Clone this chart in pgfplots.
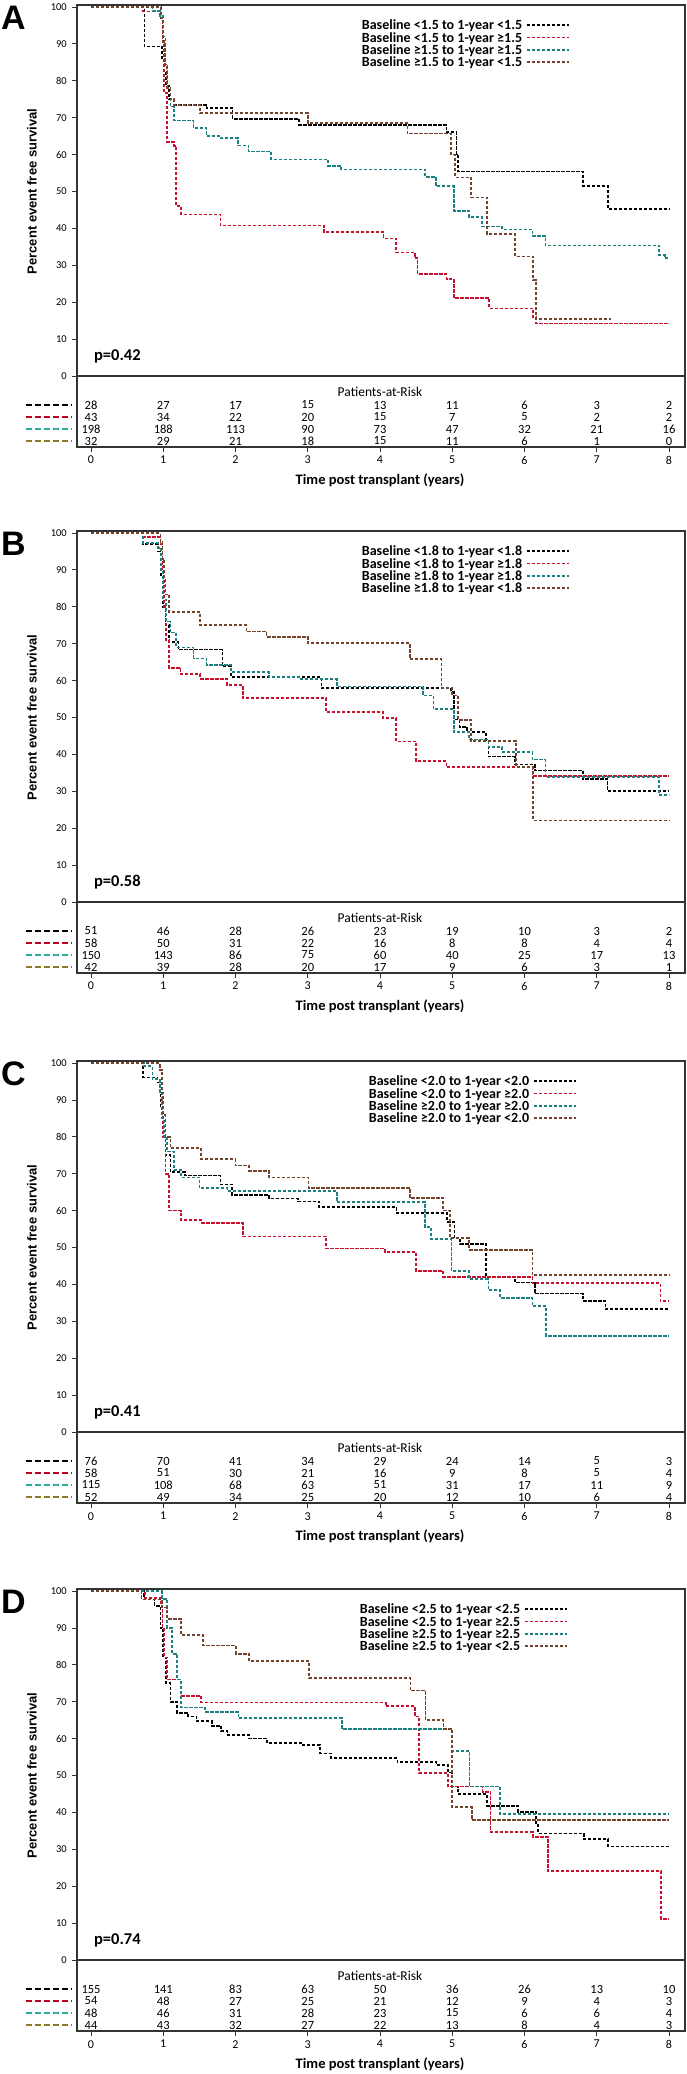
\documentclass[border=0pt]{standalone}
\usepackage{pgfplots}
\pgfplotsset{compat=1.18}
\usepackage{fontspec}
\setmainfont{Carlito}
\newfontfamily\arialfont{Liberation Sans}

\definecolor{kmred}{HTML}{C8102E}
\definecolor{kmteal}{HTML}{1A8080}
\definecolor{kmbrown}{HTML}{74442A}
\definecolor{rkred}{HTML}{C00020}
\definecolor{rkteal}{HTML}{2FA898}
\definecolor{rkolive}{HTML}{8C7A2A}
\definecolor{boxgray}{HTML}{333333}

\newcommand\fs[1]{\fontsize{#1}{#1}\selectfont}
\newcommand\LS{\rule[-1.85pt]{0pt}{12.7pt}}

\tikzset{risklegend/.style={line width=1.6pt, dash pattern=on 6pt off 3pt}}

\pgfplotsset{
  km/.style={
    scale only axis, width=608pt, height=442pt,
    anchor=north west,
    xmin=-0.194, xmax=8.221, ymin=-19.24, ymax=100.54,
    xtick={0,...,8}, ytick={0,10,...,100},
    xtick pos=left, ytick pos=left, tick align=outside,
    major tick length=5pt,
    tick style={boxgray, line width=0.8pt},
    axis line style={boxgray, line width=1.2pt},
    /pgf/number format/assume math mode=true,
    xticklabel style={font=\fs{12}, inner sep=4pt},
    yticklabel style={font=\fs{10.5}, inner sep=5pt},
    clip=false,
    every axis y label/.style={at={(axis cs:-0.817,50)}, rotate=90, anchor=center, font=\arialfont\bfseries\fs{13}},
    every axis x label/.style={at={(axis cs:4,-19.24)}, anchor=center, yshift=-33pt, font=\bfseries\fs{14.5}},
    ylabel={Percent event free survival},
    xlabel={Time post transplant (years)},
    legend plot pos=right,
    legend style={draw=none, fill=none, inner sep=0pt, column sep=4pt, row sep=0pt,
      font=\bfseries\fs{14}, cells={anchor=east}, nodes={inner sep=0pt}},
  },
  curve/.style={const plot, line width=1.7pt, dash pattern=on 3.3pt off 1.7pt,
    legend image code/.code={\draw[##1] (0pt,0pt) -- (42pt,0pt);}},
  risk/.style={draw=none, mark=none, forget plot, nodes near coords, point meta=explicit symbolic,
    every node near coord/.append style={anchor=center, font=\fs{12.5}, inner sep=0pt}},
}

\begin{document}
\begin{tikzpicture}
\useasboundingbox (0,0) rectangle (687pt,-2074pt);

% ---------------- A ----------------
\node[anchor=north west, inner sep=0pt, font=\arialfont\bfseries\fs{34}] at (1pt,-6pt) {A};
\begin{axis}[km, at={(77pt,-5pt)}, legend style={at={(0.8109,0.9691)}, anchor=north east}]
\addplot[curve, black] coordinates {(0,100) (0.74,89.3) (0.98,85.7) (1.01,82.1) (1.04,78.6) (1.08,75.0) (1.15,73.5) (1.6,72.6) (1.96,69.7) (2.88,68.1) (4.92,66.1) (5.06,60.0) (5.08,55.4) (6.81,51.5) (7.16,45.2) (8.0,45.2)};
\addlegendentry{\LS Baseline <1.5 to 1-year <1.5}
\addplot[curve, kmred] coordinates {(0,100) (0.72,98.8) (0.97,97.7) (0.99,90.7) (1.01,76.7) (1.05,63.5) (1.15,62.4) (1.18,46.0) (1.25,43.8) (1.79,40.8) (3.22,39.0) (4.05,37.3) (4.22,33.5) (4.48,31.9) (4.52,27.7) (4.92,26.3) (5.02,21.2) (5.51,18.3) (6.12,16.0) (6.16,14.2) (8.0,14.2)};
\addlegendentry{\LS Baseline <1.5 to 1-year ≥1.5}
\addplot[curve, kmteal] coordinates {(0,100) (0.85,99.0) (0.95,97.5) (1.0,92.0) (1.03,84.0) (1.06,78.0) (1.1,73.0) (1.15,69.2) (1.42,67.2) (1.6,65.0) (1.79,64.5) (2.03,62.5) (2.18,60.8) (2.49,58.7) (3.28,57.0) (3.46,56.0) (4.62,54.0) (4.77,51.4) (5.02,44.8) (5.23,43.0) (5.41,40.5) (5.69,39.7) (6.11,38.0) (6.29,35.4) (7.86,32.8) (7.94,32.0) (8.0,32.0)};
\addlegendentry{\LS Baseline ≥1.5 to 1-year ≥1.5}
\addplot[curve, kmbrown] coordinates {(0,100) (0.97,96.9) (1.0,90.6) (1.02,84.4) (1.05,78.1) (1.1,75.0) (1.15,73.4) (1.51,71.3) (3.0,68.6) (4.38,65.7) (4.98,60.0) (5.04,53.8) (5.26,48.4) (5.48,38.4) (5.87,32.4) (6.12,26.0) (6.16,15.4) (7.2,15.4)};
\addlegendentry{\LS Baseline ≥1.5 to 1-year <1.5}
\addplot[risk] coordinates {(0,-7.86)[28] (1,-7.86)[27] (2,-7.86)[17] (3,-7.86)[15] (4,-7.86)[13] (5,-7.86)[11] (6,-7.86)[6] (7,-7.86)[3] (8,-7.86)[2]};
\addplot[risk] coordinates {(0,-11.11)[43] (1,-11.11)[34] (2,-11.11)[22] (3,-11.11)[20] (4,-11.11)[15] (5,-11.11)[7] (6,-11.11)[5] (7,-11.11)[2] (8,-11.11)[2]};
\addplot[risk] coordinates {(0,-14.36)[198] (1,-14.36)[188] (2,-14.36)[113] (3,-14.36)[90] (4,-14.36)[73] (5,-14.36)[47] (6,-14.36)[32] (7,-14.36)[21] (8,-14.36)[16]};
\addplot[risk] coordinates {(0,-17.61)[32] (1,-17.61)[29] (2,-17.61)[21] (3,-17.61)[18] (4,-17.61)[15] (5,-17.61)[11] (6,-17.61)[6] (7,-17.61)[1] (8,-17.61)[0]};
\draw[boxgray, line width=1.2pt] (axis cs:-0.194,0) -- (axis cs:8.221,0);
\node[font=\fs{13.5}, inner sep=0pt] at (axis cs:4,-4.34) {Patients-at-Risk};
\node[anchor=base west, font=\bfseries\fs{16.5}, inner sep=0pt] at (axis cs:0.04,4.25) {p=0.42};
\draw[risklegend, black] (axis cs:-0.90,-7.86) -- (axis cs:-0.263,-7.86);
\draw[risklegend, rkred] (axis cs:-0.90,-11.11) -- (axis cs:-0.263,-11.11);
\draw[risklegend, rkteal] (axis cs:-0.90,-14.36) -- (axis cs:-0.263,-14.36);
\draw[risklegend, rkolive] (axis cs:-0.90,-17.61) -- (axis cs:-0.263,-17.61);
\end{axis}

% ---------------- B ----------------
\node[anchor=north west, inner sep=0pt, font=\arialfont\bfseries\fs{34}] at (1pt,-532pt) {B};
\begin{axis}[km, at={(77pt,-531pt)}, legend style={at={(0.8109,0.9691)}, anchor=north east}]
\addplot[curve, black] coordinates {(0,100) (0.72,97.0) (0.93,95.0) (0.97,88.0) (1.0,80.0) (1.03,75.0) (1.08,70.5) (1.21,68.4) (1.82,64.0) (1.94,61.0) (3.19,58.0) (4.98,56.9) (5.02,49.5) (5.1,47.5) (5.2,46.0) (5.47,43.8) (5.5,39.4) (5.87,37.3) (6.14,35.6) (6.81,33.4) (7.15,30.0) (8.0,30.0)};
\addlegendentry{\LS Baseline <1.8 to 1-year <1.8}
\addplot[curve, kmred] coordinates {(0,100) (0.72,99.0) (0.96,97.0) (0.99,90.0) (1.01,80.0) (1.04,71.0) (1.08,63.5) (1.24,61.7) (1.51,60.5) (1.88,58.8) (2.1,55.2) (3.25,51.4) (4.04,49.8) (4.22,43.5) (4.5,38.2) (4.92,36.5) (6.11,34.2) (8.0,34.2)};
\addlegendentry{\LS Baseline <1.8 to 1-year ≥1.8}
\addplot[curve, kmteal] coordinates {(0,100) (0.72,97.3) (0.93,96.0) (0.97,90.0) (1.0,82.0) (1.04,76.0) (1.1,73.0) (1.18,69.0) (1.42,66.0) (1.6,64.3) (1.94,62.3) (2.46,61.0) (2.88,60.4) (3.4,58.4) (4.59,56.0) (4.74,52.3) (5.02,46.0) (5.23,44.0) (5.5,42.0) (5.69,40.7) (6.11,38.6) (6.29,33.8) (7.86,29.0) (8.0,29.0)};
\addlegendentry{\LS Baseline ≥1.8 to 1-year ≥1.8}
\addplot[curve, kmbrown] coordinates {(0,100) (0.96,97.6) (0.99,92.9) (1.01,88.0) (1.03,83.3) (1.08,78.5) (1.51,75.0) (2.15,73.3) (2.43,71.9) (3.0,70.2) (4.41,65.8) (4.85,58.0) (5.0,56.0) (5.08,49.4) (5.26,43.6) (5.88,36.6) (6.12,22.1) (8.0,22.1)};
\addlegendentry{\LS Baseline ≥1.8 to 1-year <1.8}
\addplot[risk] coordinates {(0,-7.86)[51] (1,-7.86)[46] (2,-7.86)[28] (3,-7.86)[26] (4,-7.86)[23] (5,-7.86)[19] (6,-7.86)[10] (7,-7.86)[3] (8,-7.86)[2]};
\addplot[risk] coordinates {(0,-11.11)[58] (1,-11.11)[50] (2,-11.11)[31] (3,-11.11)[22] (4,-11.11)[16] (5,-11.11)[8] (6,-11.11)[8] (7,-11.11)[4] (8,-11.11)[4]};
\addplot[risk] coordinates {(0,-14.36)[150] (1,-14.36)[143] (2,-14.36)[86] (3,-14.36)[75] (4,-14.36)[60] (5,-14.36)[40] (6,-14.36)[25] (7,-14.36)[17] (8,-14.36)[13]};
\addplot[risk] coordinates {(0,-17.61)[42] (1,-17.61)[39] (2,-17.61)[28] (3,-17.61)[20] (4,-17.61)[17] (5,-17.61)[9] (6,-17.61)[6] (7,-17.61)[3] (8,-17.61)[1]};
\draw[boxgray, line width=1.2pt] (axis cs:-0.194,0) -- (axis cs:8.221,0);
\node[font=\fs{13.5}, inner sep=0pt] at (axis cs:4,-4.34) {Patients-at-Risk};
\node[anchor=base west, font=\bfseries\fs{16.5}, inner sep=0pt] at (axis cs:0.04,4.25) {p=0.58};
\draw[risklegend, black] (axis cs:-0.90,-7.86) -- (axis cs:-0.263,-7.86);
\draw[risklegend, rkred] (axis cs:-0.90,-11.11) -- (axis cs:-0.263,-11.11);
\draw[risklegend, rkteal] (axis cs:-0.90,-14.36) -- (axis cs:-0.263,-14.36);
\draw[risklegend, rkolive] (axis cs:-0.90,-17.61) -- (axis cs:-0.263,-17.61);
\end{axis}

% ---------------- C ----------------
\node[anchor=north west, inner sep=0pt, font=\arialfont\bfseries\fs{34}] at (1pt,-1062pt) {C};
\begin{axis}[km, at={(77pt,-1061pt)}, legend style={at={(0.8224,0.9691)}, anchor=north east}]
\addplot[curve, black] coordinates {(0,100) (0.72,96.1) (0.92,94.7) (0.96,88.0) (1.0,80.0) (1.03,75.0) (1.1,70.5) (1.3,69.5) (1.79,67.1) (1.95,64.3) (2.46,63.3) (2.86,62.5) (3.16,60.9) (4.23,59.3) (4.93,57.0) (5.03,52.5) (5.11,51.0) (5.47,42.0) (5.87,40.5) (6.14,37.5) (6.81,35.6) (7.12,33.3) (8.0,33.3)};
\addlegendentry{\LS Baseline <2.0 to 1-year <2.0}
\addplot[curve, kmred] coordinates {(0,100) (0.95,98.0) (0.98,90.0) (1.0,80.0) (1.03,70.0) (1.08,60.0) (1.25,57.4) (1.52,56.7) (2.1,53.0) (3.25,49.7) (4.07,48.8) (4.5,43.7) (4.87,42.1) (6.11,40.4) (7.88,35.5) (8.0,35.5)};
\addlegendentry{\LS Baseline <2.0 to 1-year ≥2.0}
\addplot[curve, kmteal] coordinates {(0,100) (0.73,99.1) (0.85,95.7) (0.95,92.0) (0.98,85.0) (1.01,80.0) (1.05,76.0) (1.15,71.0) (1.25,69.0) (1.5,66.1) (1.89,65.3) (3.4,62.3) (4.62,55.5) (4.71,52.3) (4.99,43.6) (5.23,41.5) (5.5,38.5) (5.66,36.4) (6.11,34.1) (6.3,26.1) (8.0,26.1)};
\addlegendentry{\LS Baseline ≥2.0 to 1-year ≥2.0}
\addplot[curve, kmbrown] coordinates {(0,100) (0.96,98.1) (0.98,92.0) (1.0,86.0) (1.03,80.0) (1.1,77.0) (1.52,74.0) (2.0,72.2) (2.19,70.8) (2.46,69.0) (3.01,66.2) (4.41,63.5) (4.87,60.0) (4.97,52.5) (5.23,49.4) (6.11,42.5) (8.0,42.5)};
\addlegendentry{\LS Baseline ≥2.0 to 1-year <2.0}
\addplot[risk] coordinates {(0,-7.86)[76] (1,-7.86)[70] (2,-7.86)[41] (3,-7.86)[34] (4,-7.86)[29] (5,-7.86)[24] (6,-7.86)[14] (7,-7.86)[5] (8,-7.86)[3]};
\addplot[risk] coordinates {(0,-11.11)[58] (1,-11.11)[51] (2,-11.11)[30] (3,-11.11)[21] (4,-11.11)[16] (5,-11.11)[9] (6,-11.11)[8] (7,-11.11)[5] (8,-11.11)[4]};
\addplot[risk] coordinates {(0,-14.36)[115] (1,-14.36)[108] (2,-14.36)[68] (3,-14.36)[63] (4,-14.36)[51] (5,-14.36)[31] (6,-14.36)[17] (7,-14.36)[11] (8,-14.36)[9]};
\addplot[risk] coordinates {(0,-17.61)[52] (1,-17.61)[49] (2,-17.61)[34] (3,-17.61)[25] (4,-17.61)[20] (5,-17.61)[12] (6,-17.61)[10] (7,-17.61)[6] (8,-17.61)[4]};
\draw[boxgray, line width=1.2pt] (axis cs:-0.194,0) -- (axis cs:8.221,0);
\node[font=\fs{13.5}, inner sep=0pt] at (axis cs:4,-4.34) {Patients-at-Risk};
\node[anchor=base west, font=\bfseries\fs{16.5}, inner sep=0pt] at (axis cs:0.04,4.25) {p=0.41};
\draw[risklegend, black] (axis cs:-0.90,-7.86) -- (axis cs:-0.263,-7.86);
\draw[risklegend, rkred] (axis cs:-0.90,-11.11) -- (axis cs:-0.263,-11.11);
\draw[risklegend, rkteal] (axis cs:-0.90,-14.36) -- (axis cs:-0.263,-14.36);
\draw[risklegend, rkolive] (axis cs:-0.90,-17.61) -- (axis cs:-0.263,-17.61);
\end{axis}

% ---------------- D ----------------
\node[anchor=north west, inner sep=0pt, font=\arialfont\bfseries\fs{34}] at (1pt,-1590pt) {D};
\begin{axis}[km, at={(77pt,-1589pt)}, legend style={at={(0.8076,0.9691)}, anchor=north east}]
\addplot[curve, black] coordinates {(0,100) (0.73,98.1) (0.88,96.0) (0.96,90.0) (1.0,82.0) (1.04,75.0) (1.1,70.0) (1.19,67.0) (1.34,66.0) (1.46,64.7) (1.67,63.5) (1.8,62.0) (1.89,61.0) (2.19,60.0) (2.44,58.8) (2.93,58.2) (3.17,56.0) (3.32,54.7) (4.24,53.7) (4.78,52.8) (4.94,50.8) (5.0,47.0) (5.08,45.0) (5.48,41.8) (5.91,40.2) (6.16,36.5) (6.19,34.3) (6.82,32.8) (7.16,30.8) (8.0,30.8)};
\addlegendentry{\LS Baseline <2.5 to 1-year <2.5}
\addplot[curve, kmred] coordinates {(0,100) (0.75,98.1) (0.97,96.0) (0.99,90.0) (1.01,82.0) (1.05,76.0) (1.25,71.6) (1.52,69.8) (4.08,68.8) (4.48,66.0) (4.54,50.6) (4.94,47.0) (5.42,45.6) (5.53,34.7) (6.12,33.4) (6.32,24.1) (7.89,11.2) (8.0,11.2)};
\addlegendentry{\LS Baseline <2.5 to 1-year ≥2.5}
\addplot[curve, kmteal] coordinates {(0,100) (0.98,97.9) (1.05,90.0) (1.12,83.0) (1.19,76.0) (1.25,68.4) (1.58,67.3) (2.04,65.5) (3.47,62.7) (5.0,56.6) (5.24,47.0) (5.66,39.6) (8.0,39.6)};
\addlegendentry{\LS Baseline ≥2.5 to 1-year ≥2.5}
\addplot[curve, kmbrown] coordinates {(0,100) (0.7,97.7) (0.98,95.5) (1.05,92.5) (1.25,88.1) (1.55,85.2) (2.01,83.0) (2.19,81.0) (3.02,76.4) (4.42,73.0) (4.63,65.0) (4.88,62.7) (5.0,41.5) (5.27,38.0) (8.0,38.0)};
\addlegendentry{\LS Baseline ≥2.5 to 1-year <2.5}
\addplot[risk] coordinates {(0,-7.86)[155] (1,-7.86)[141] (2,-7.86)[83] (3,-7.86)[63] (4,-7.86)[50] (5,-7.86)[36] (6,-7.86)[26] (7,-7.86)[13] (8,-7.86)[10]};
\addplot[risk] coordinates {(0,-11.11)[54] (1,-11.11)[48] (2,-11.11)[27] (3,-11.11)[25] (4,-11.11)[21] (5,-11.11)[12] (6,-11.11)[9] (7,-11.11)[4] (8,-11.11)[3]};
\addplot[risk] coordinates {(0,-14.36)[48] (1,-14.36)[46] (2,-14.36)[31] (3,-14.36)[28] (4,-14.36)[23] (5,-14.36)[15] (6,-14.36)[6] (7,-14.36)[6] (8,-14.36)[4]};
\addplot[risk] coordinates {(0,-17.61)[44] (1,-17.61)[43] (2,-17.61)[32] (3,-17.61)[27] (4,-17.61)[22] (5,-17.61)[13] (6,-17.61)[8] (7,-17.61)[4] (8,-17.61)[3]};
\draw[boxgray, line width=1.2pt] (axis cs:-0.194,0) -- (axis cs:8.221,0);
\node[font=\fs{13.5}, inner sep=0pt] at (axis cs:4,-4.34) {Patients-at-Risk};
\node[anchor=base west, font=\bfseries\fs{16.5}, inner sep=0pt] at (axis cs:0.04,4.25) {p=0.74};
\draw[risklegend, black] (axis cs:-0.90,-7.86) -- (axis cs:-0.263,-7.86);
\draw[risklegend, rkred] (axis cs:-0.90,-11.11) -- (axis cs:-0.263,-11.11);
\draw[risklegend, rkteal] (axis cs:-0.90,-14.36) -- (axis cs:-0.263,-14.36);
\draw[risklegend, rkolive] (axis cs:-0.90,-17.61) -- (axis cs:-0.263,-17.61);
\end{axis}
\end{tikzpicture}
\end{document}
